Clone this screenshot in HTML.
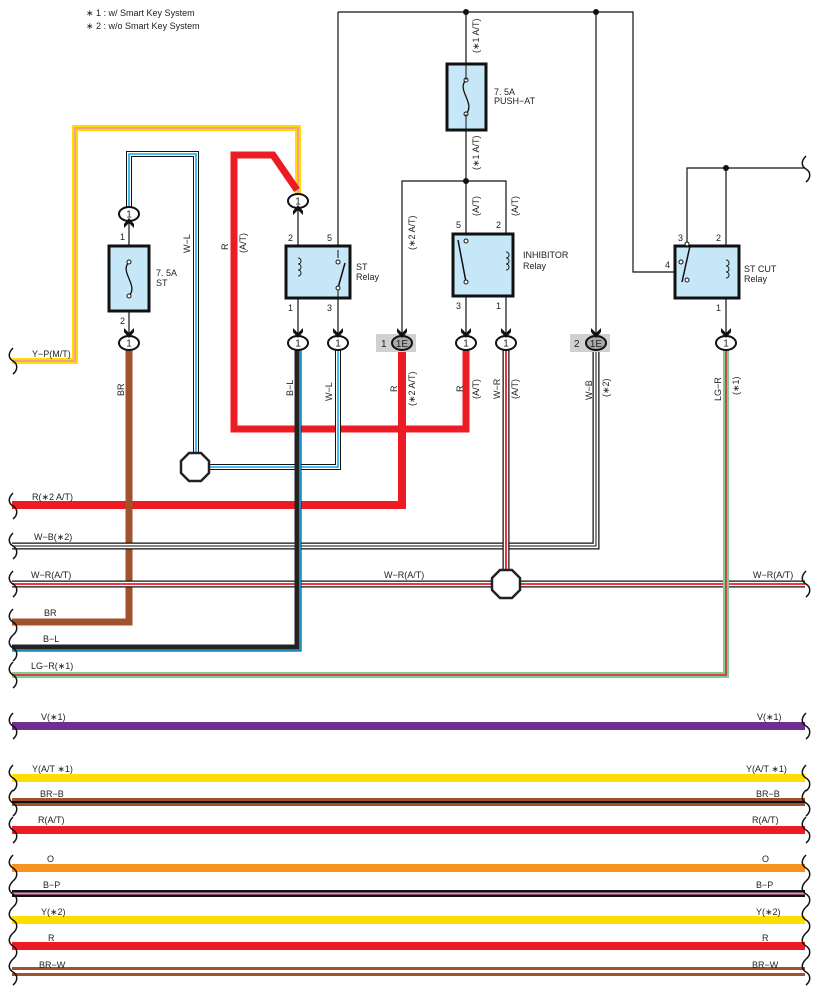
<!DOCTYPE html>
<html><head><meta charset="utf-8"><style>
html,body{margin:0;padding:0;background:#fff;}
svg{display:block;font-family:"Liberation Sans",sans-serif;}
text{font-size:9px;fill:#222;}
</style></head><body>
<svg width="817" height="995" viewBox="0 0 817 995" xmlns="http://www.w3.org/2000/svg">
<defs>
<g id="conn"><ellipse cx="0" cy="0" rx="10" ry="7" fill="#fff" stroke="#111" stroke-width="2"/><text x="0" y="3.5" text-anchor="middle" style="font-size:10px">1</text></g>
<g id="arrD"><path d="M-5,-12 L0,-7 L5,-12 L5,-8 L0,-2 L-5,-8 Z" fill="#111"/></g>
<g id="arrU"><path d="M-5,12 L0,7 L5,12 L5,8 L0,2 L-5,8 Z" fill="#111"/></g>
<path id="sq" d="M0,0 C-5,5 -5,10 0,13 C5,16 5,22 0,26" fill="none" stroke="#111" stroke-width="1.5"/>
</defs>

<text x="86" y="16">∗ 1 : w/ Smart Key System</text>
<text x="86" y="29">∗ 2 : w/o Smart Key System</text>

<g fill="none" stroke="#111" stroke-width="1.2">
<path d="M338,12 H633 V272 H674"/>
<path d="M338,12 V343"/>
<path d="M466,12 V181"/>
<path d="M402,343 V181 H506 V343"/>
<path d="M466,181 V343"/>
<path d="M596,12 V343"/>
<path d="M805,168 H687 V298"/>
<path d="M726,168 V343"/>
<path d="M129,200 V343"/>
<path d="M298,200 V343"/>
</g>
<g fill="#111"><circle cx="466" cy="12" r="3"/><circle cx="596" cy="12" r="3"/><circle cx="466" cy="181" r="3"/><circle cx="726" cy="168" r="3"/></g>
<use href="#sq" x="806" y="156"/>

<rect x="447" y="64" width="39" height="66" fill="#c6e7f8" stroke="#111" stroke-width="3"/>
<path d="M466,80 C456,90 476,103 466,114" fill="none" stroke="#111" stroke-width="1.3"/>
<circle cx="466" cy="80" r="2" fill="#fff" stroke="#111"/><circle cx="466" cy="114" r="2" fill="#fff" stroke="#111"/>
<path d="M466,64 V80 M466,114 V130" stroke="#111"/>
<text x="494" y="95">7. 5A</text><text x="494" y="104">PUSH−AT</text>
<text transform="translate(479,53) rotate(-90)">(∗1 A/T)</text>
<text transform="translate(479,170) rotate(-90)">(∗1 A/T)</text>

<path d="M298,195 V128 H75 V361 H12" fill="none" stroke="#ffdd00" stroke-width="6"/>
<path d="M298,195 V128 H75 V361 H12" fill="none" stroke="#f08cc0" stroke-width="1.5"/>
<path d="M297,190 L273,155 H234 V429 H466 V343" fill="none" stroke="#ed1c24" stroke-width="7" stroke-linejoin="miter"/>
<path d="M402,343 V505 H12" fill="none" stroke="#ed1c24" stroke-width="8"/>
<path d="M129,343 V622 H12" fill="none" stroke="#a0522d" stroke-width="7"/>
<path d="M129,214 V154 H196 V460" fill="none" stroke="#111" stroke-width="6"/>
<path d="M129,214 V154 H196 V460" fill="none" stroke="#fff" stroke-width="4"/>
<path d="M129,214 V154 H196 V460" fill="none" stroke="#1aa6e6" stroke-width="1.6"/>
<path d="M338,343 V467 H205" fill="none" stroke="#111" stroke-width="6"/>
<path d="M338,343 V467 H205" fill="none" stroke="#fff" stroke-width="4"/>
<path d="M338,343 V467 H205" fill="none" stroke="#1aa6e6" stroke-width="1.6"/>
<path d="M596,343 V546 H12" fill="none" stroke="#111" stroke-width="7"/>
<path d="M596,343 V546 H12" fill="none" stroke="#fff" stroke-width="4.5"/>
<path d="M596,343 V546 H12" fill="none" stroke="#111" stroke-width="1"/>
<path d="M12,584 H805" fill="none" stroke="#111" stroke-width="7"/>
<path d="M12,584 H805" fill="none" stroke="#fff" stroke-width="4.5"/>
<path d="M12,584 H805" fill="none" stroke="#ed1c24" stroke-width="1.8"/>
<path d="M506,343 V575" fill="none" stroke="#111" stroke-width="7"/>
<path d="M506,343 V575" fill="none" stroke="#fff" stroke-width="4.5"/>
<path d="M506,343 V575" fill="none" stroke="#ed1c24" stroke-width="1.8"/>
<path d="M298,343 V648 H12" fill="none" stroke="#222" stroke-width="7"/>
<path d="M300,350 V650 H12" fill="none" stroke="#1aa6e6" stroke-width="1.6"/>
<path d="M726,343 V675 H12" fill="none" stroke="#7fcc98" stroke-width="6"/>
<path d="M726,343 V675 H12" fill="none" stroke="#ed1c24" stroke-width="1.5"/>

<polygon points="189,453 201,453 209,461 209,473 201,481 189,481 181,473 181,461" fill="#fff" stroke="#222" stroke-width="2.5"/>
<polygon points="500,570 512,570 520,578 520,590 512,598 500,598 492,590 492,578" fill="#fff" stroke="#222" stroke-width="2.5"/>

<rect x="109" y="246" width="40" height="65" fill="#c6e7f8" stroke="#111" stroke-width="3"/>
<path d="M129,262 C119,272 139,285 129,296" fill="none" stroke="#111" stroke-width="1.3"/>
<circle cx="129" cy="262" r="2" fill="#fff" stroke="#111"/><circle cx="129" cy="296" r="2" fill="#fff" stroke="#111"/>
<text x="156" y="276">7. 5A</text><text x="156" y="286">ST</text>
<text x="120" y="240">1</text><text x="120" y="324">2</text>

<rect x="286" y="246" width="64" height="52" fill="#c6e7f8" stroke="#111" stroke-width="3"/>
<path d="M298,258 c4,0 4,6 0,6 c4,0 4,6 0,6 c4,0 4,6 0,6" fill="none" stroke="#111"/>
<path d="M338,250 V258 M338,289 V298" stroke="#111"/>
<path d="M338,288 L345,263" stroke="#111" stroke-width="1.5"/>
<circle cx="338" cy="262" r="2" fill="#fff" stroke="#111"/><circle cx="338" cy="288" r="2" fill="#fff" stroke="#111"/>
<text x="288" y="241">2</text><text x="327" y="241">5</text><text x="288" y="311">1</text><text x="327" y="311">3</text>
<text x="356" y="270">ST</text><text x="356" y="280">Relay</text>

<rect x="453" y="234" width="60" height="62" fill="#c6e7f8" stroke="#111" stroke-width="3"/>
<path d="M506,252 c4,0 4,6 0,6 c4,0 4,6 0,6 c4,0 4,6 0,6" fill="none" stroke="#111"/>
<path d="M466,282 L458,240" stroke="#111" stroke-width="1.5"/>
<circle cx="466" cy="241" r="2" fill="#fff" stroke="#111"/><circle cx="466" cy="282" r="2" fill="#fff" stroke="#111"/>
<text x="456" y="228">5</text><text x="496" y="228">2</text><text x="456" y="309">3</text><text x="496" y="309">1</text>
<text x="523" y="258">INHIBITOR</text><text x="523" y="269">Relay</text>

<rect x="675" y="246" width="64" height="52" fill="#c6e7f8" stroke="#111" stroke-width="3"/>
<path d="M726,260 c4,0 4,6 0,6 c4,0 4,6 0,6 c4,0 4,6 0,6" fill="none" stroke="#111"/>
<path d="M682,282 L690,246" stroke="#111" stroke-width="1.5"/>
<circle cx="687" cy="244" r="2" fill="#fff" stroke="#111"/><circle cx="681" cy="262" r="2" fill="#fff" stroke="#111"/><circle cx="687" cy="280" r="2" fill="#fff" stroke="#111"/>
<text x="678" y="241">3</text><text x="716" y="241">2</text><text x="665" y="268">4</text><text x="716" y="311">1</text>
<text x="744" y="272">ST CUT</text><text x="744" y="282">Relay</text>

<rect x="376" y="334" width="40" height="18" fill="#d0d0d0"/>
<rect x="570" y="334" width="40" height="18" fill="#d0d0d0"/>
<text x="381" y="347" style="font-size:10px">1</text><text x="574" y="347" style="font-size:10px">2</text>

<use href="#conn" x="129" y="214"/><use href="#arrU" x="129" y="216"/>
<use href="#conn" x="298" y="201"/><use href="#arrU" x="298" y="203"/>
<use href="#conn" x="129" y="343"/><use href="#arrD" x="129" y="340"/>
<use href="#conn" x="298" y="343"/><use href="#arrD" x="298" y="340"/>
<use href="#conn" x="338" y="343"/><use href="#arrD" x="338" y="340"/>
<use href="#conn" x="466" y="343"/><use href="#arrD" x="466" y="340"/>
<use href="#conn" x="506" y="343"/><use href="#arrD" x="506" y="340"/>
<use href="#conn" x="726" y="343"/><use href="#arrD" x="726" y="340"/>
<ellipse cx="402" cy="343" rx="10" ry="7" fill="#aaa" stroke="#111" stroke-width="2"/><text x="402" y="347" text-anchor="middle" style="font-size:10px">1E</text><use href="#arrD" x="402" y="340"/>
<ellipse cx="596" cy="343" rx="10" ry="7" fill="#aaa" stroke="#111" stroke-width="2"/><text x="596" y="347" text-anchor="middle" style="font-size:10px">1E</text><use href="#arrD" x="596" y="340"/>

<g>
<text transform="translate(190,253) rotate(-90)">W−L</text>
<text transform="translate(228,250) rotate(-90)">R</text>
<text transform="translate(246,253) rotate(-90)">(A/T)</text>
<text transform="translate(124,396) rotate(-90)">BR</text>
<text transform="translate(293,396) rotate(-90)">B−L</text>
<text transform="translate(332,401) rotate(-90)">W−L</text>
<text transform="translate(397,392) rotate(-90)">R</text>
<text transform="translate(415,406) rotate(-90)">(∗2 A/T)</text>
<text transform="translate(463,392) rotate(-90)">R</text>
<text transform="translate(479,399) rotate(-90)">(A/T)</text>
<text transform="translate(500,399) rotate(-90)">W−R</text>
<text transform="translate(518,399) rotate(-90)">(A/T)</text>
<text transform="translate(592,400) rotate(-90)">W−B</text>
<text transform="translate(609,397) rotate(-90)">(∗2)</text>
<text transform="translate(721,401) rotate(-90)">LG−R</text>
<text transform="translate(739,395) rotate(-90)">(∗1)</text>
<text transform="translate(415,250) rotate(-90)">(∗2 A/T)</text>
<text transform="translate(479,216) rotate(-90)">(A/T)</text>
<text transform="translate(518,216) rotate(-90)">(A/T)</text>
</g>

<text x="32" y="357">Y−P(M/T)</text>
<text x="32" y="500">R(∗2 A/T)</text>
<text x="34" y="540">W−B(∗2)</text>
<text x="31" y="578">W−R(A/T)</text>
<text x="384" y="578">W−R(A/T)</text>
<text x="753" y="578">W−R(A/T)</text>
<text x="44" y="616">BR</text>
<text x="43" y="642">B−L</text>
<text x="31" y="669">LG−R(∗1)</text>

<rect x="12" y="722" width="793" height="8" fill="#702f8f"/>
<rect x="12" y="774" width="793" height="8" fill="#ffdd00"/>
<rect x="12" y="798" width="793" height="3" fill="#a0522d"/><rect x="12" y="801" width="793" height="2" fill="#111"/><rect x="12" y="803" width="793" height="3" fill="#a0522d"/>
<rect x="12" y="826" width="793" height="8" fill="#ed1c24"/>
<rect x="12" y="864" width="793" height="8" fill="#f7941d"/>
<rect x="12" y="890" width="793" height="2.5" fill="#111"/><rect x="12" y="892.5" width="793" height="2" fill="#f08cc0"/><rect x="12" y="894.5" width="793" height="2.5" fill="#111"/>
<rect x="12" y="916" width="793" height="8" fill="#ffdd00"/>
<rect x="12" y="942" width="793" height="8" fill="#ed1c24"/>
<rect x="12" y="967" width="793" height="3" fill="#a0522d"/><rect x="12" y="973" width="793" height="3" fill="#a0522d"/>

<g>
<text x="41" y="720">V(∗1)</text><text x="757" y="720">V(∗1)</text>
<text x="32" y="772">Y(A/T ∗1)</text><text x="746" y="772">Y(A/T ∗1)</text>
<text x="40" y="797">BR−B</text><text x="756" y="797">BR−B</text>
<text x="38" y="823">R(A/T)</text><text x="752" y="823">R(A/T)</text>
<text x="47" y="862">O</text><text x="762" y="862">O</text>
<text x="43" y="888">B−P</text><text x="756" y="888">B−P</text>
<text x="41" y="915">Y(∗2)</text><text x="756" y="915">Y(∗2)</text>
<text x="48" y="941">R</text><text x="762" y="941">R</text>
<text x="39" y="968">BR−W</text><text x="752" y="968">BR−W</text>
</g>

<g>
<use href="#sq" x="13" y="348"/>
<use href="#sq" x="13" y="493"/>
<use href="#sq" x="13" y="533"/>
<use href="#sq" x="13" y="571"/>
<use href="#sq" x="806" y="571"/>
<use href="#sq" x="13" y="609"/>
<use href="#sq" x="13" y="635"/>
<use href="#sq" x="13" y="662"/>
<use href="#sq" x="13" y="713"/><use href="#sq" x="806" y="713"/>
<use href="#sq" x="13" y="765"/><use href="#sq" x="806" y="765"/>
<use href="#sq" x="13" y="790"/><use href="#sq" x="806" y="790"/>
<use href="#sq" x="13" y="817"/><use href="#sq" x="806" y="817"/>
<use href="#sq" x="13" y="855"/><use href="#sq" x="806" y="855"/>
<use href="#sq" x="13" y="881"/><use href="#sq" x="806" y="881"/>
<use href="#sq" x="13" y="907"/><use href="#sq" x="806" y="907"/>
<use href="#sq" x="13" y="933"/><use href="#sq" x="806" y="933"/>
<use href="#sq" x="13" y="959"/><use href="#sq" x="806" y="959"/>
</g>
</svg>
</body></html>
